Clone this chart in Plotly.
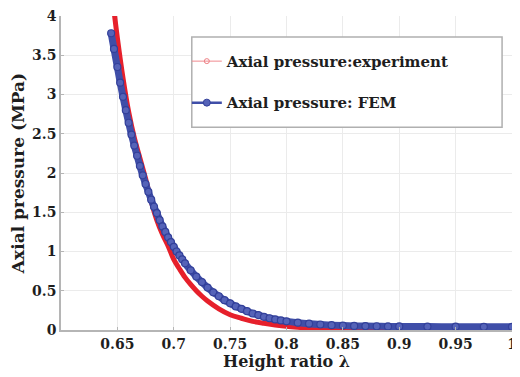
import plotly.graph_objects as go

# Experiment (red) readings
exp_ratio = [0.6474, 0.650, 0.655, 0.660, 0.665, 0.670, 0.675, 0.680, 0.685, 0.690,
             0.695, 0.700, 0.705, 0.710, 0.715, 0.720, 0.725, 0.730, 0.740, 0.750,
             0.760, 0.770, 0.780, 0.790, 0.800, 0.810, 0.820, 0.840, 0.860, 0.900,
             0.950, 1.000]
exp_pressure = [4.02, 3.72, 3.21, 2.78, 2.45, 2.19, 1.93, 1.64, 1.40, 1.22,
                1.07, 0.90, 0.78, 0.67, 0.58, 0.50, 0.43, 0.37, 0.27, 0.195,
                0.15, 0.11, 0.085, 0.065, 0.048, 0.036, 0.027, 0.016, 0.010, 0.005,
                0.003, 0.002]

# FEM (blue) readings
fem_ratio = [0.6445, 0.647, 0.650, 0.6525, 0.655, 0.6575, 0.660, 0.6625, 0.665, 0.6675,
             0.670, 0.6725, 0.675, 0.6775, 0.680, 0.6825, 0.685, 0.6875, 0.690, 0.6925,
             0.695, 0.6975, 0.700, 0.7025, 0.705, 0.7075, 0.710, 0.715, 0.720, 0.725,
             0.730, 0.735, 0.740, 0.745, 0.750, 0.755, 0.760, 0.765, 0.770, 0.775,
             0.780, 0.785, 0.790, 0.795, 0.800, 0.810, 0.820, 0.830, 0.840, 0.850,
             0.860, 0.870, 0.880, 0.890, 0.900, 0.925, 0.950, 0.975, 1.000]
fem_pressure = [3.78, 3.58, 3.35, 3.15, 2.97, 2.80, 2.64, 2.49, 2.35, 2.22,
                2.09, 1.97, 1.86, 1.76, 1.66, 1.57, 1.49, 1.40, 1.32, 1.25,
                1.18, 1.12, 1.06, 1.00, 0.95, 0.90, 0.85, 0.76, 0.68, 0.61,
                0.54, 0.48, 0.43, 0.38, 0.34, 0.30, 0.27, 0.24, 0.21, 0.19,
                0.168, 0.150, 0.135, 0.122, 0.110, 0.093, 0.080, 0.070, 0.062, 0.056,
                0.052, 0.050, 0.048, 0.046, 0.045, 0.043, 0.042, 0.041, 0.040]

x_ticks = [0.65, 0.7, 0.75, 0.8, 0.85, 0.9, 0.95, 1.0]
x_labels = ["0.65", "0.7", "0.75", "0.8", "0.85", "0.9", "0.95", "1"]
y_ticks = [0, 0.5, 1, 1.5, 2, 2.5, 3, 3.5, 4]
y_labels = ["0", "0.5", "1", "1.5", "2", "2.5", "3", "3.5", "4"]

RED = "#e6202b"
BLUE = "#3f4ea8"
FONT = "DejaVu Serif"
INK = "#1e1e1e"

fig = go.Figure()
fig.add_trace(go.Scatter(x=exp_ratio, y=exp_pressure, mode="lines",
                         line=dict(color=RED, width=5, shape="spline"),
                         showlegend=False))
fig.add_trace(go.Scatter(x=fem_ratio, y=fem_pressure, mode="lines+markers",
                         line=dict(color=BLUE, width=7, shape="spline"),
                         marker=dict(symbol="circle", size=7, color="#5563b8",
                                     line=dict(color="#33409a", width=1.2)),
                         showlegend=False))
# legend entries
fig.add_trace(go.Scatter(x=[None], y=[None], mode="lines+markers",
                         name="<b>Axial pressure:experiment</b>", legendgroup="a",
                         line=dict(color="#f08a8e", width=1),
                         marker=dict(symbol="circle-open", size=5, color="#ee7f84")))
fig.add_trace(go.Scatter(x=[None], y=[None], mode="lines+markers",
                         name="<b>Axial pressure: FEM</b>", legendgroup="b",
                         line=dict(color=BLUE, width=2.5),
                         marker=dict(symbol="circle", size=7, color="#5563b8",
                                     line=dict(color="#33409a", width=1))))

axis_common = dict(showgrid=True, gridcolor="#ebebeb", gridwidth=1,
                   showline=True, linecolor="#b5b5b5", linewidth=1.5,
                   ticks="inside", ticklen=3, tickcolor="#b5b5b5",
                   zeroline=False, mirror=False, automargin=False,
                   ticklabeloverflow="allow",
                   tickfont=dict(family=FONT, size=14, color=INK))

fig.update_xaxes(range=[0.6, 1.0], tickvals=x_ticks,
                 ticktext=["<b>%s</b>" % t for t in x_labels],
                 title=dict(text="<b>Height ratio λ</b>", standoff=3,
                            font=dict(family=FONT, size=16, color=INK)),
                 **axis_common)
fig.update_yaxes(range=[0, 4], tickvals=y_ticks,
                 ticktext=["<b>%s</b>" % t for t in y_labels],
                 title=dict(text="<b>Axial pressure (MPa)</b>", standoff=4,
                            font=dict(family=FONT, size=17, color=INK)),
                 **axis_common)

fig.update_layout(
    width=512, height=369,
    margin=dict(l=53, r=8, t=8, b=47),
    plot_bgcolor="white", paper_bgcolor="white",
    legend=dict(x=0.279, y=0.908, xanchor="left", yanchor="top",
                bgcolor="rgba(0,0,0,0)", borderwidth=0,
                traceorder="grouped", tracegroupgap=19,
                font=dict(family=FONT, size=15, color=INK),
                itemwidth=30),
    shapes=[dict(type="rect", xref="paper", yref="paper",
                 x0=0.290, x1=0.978, y0=0.646, y1=0.933,
                 fillcolor="white", line=dict(color="#b0b0b0", width=1.5),
                 layer="above")],
)

fig.write_html("out.html")
